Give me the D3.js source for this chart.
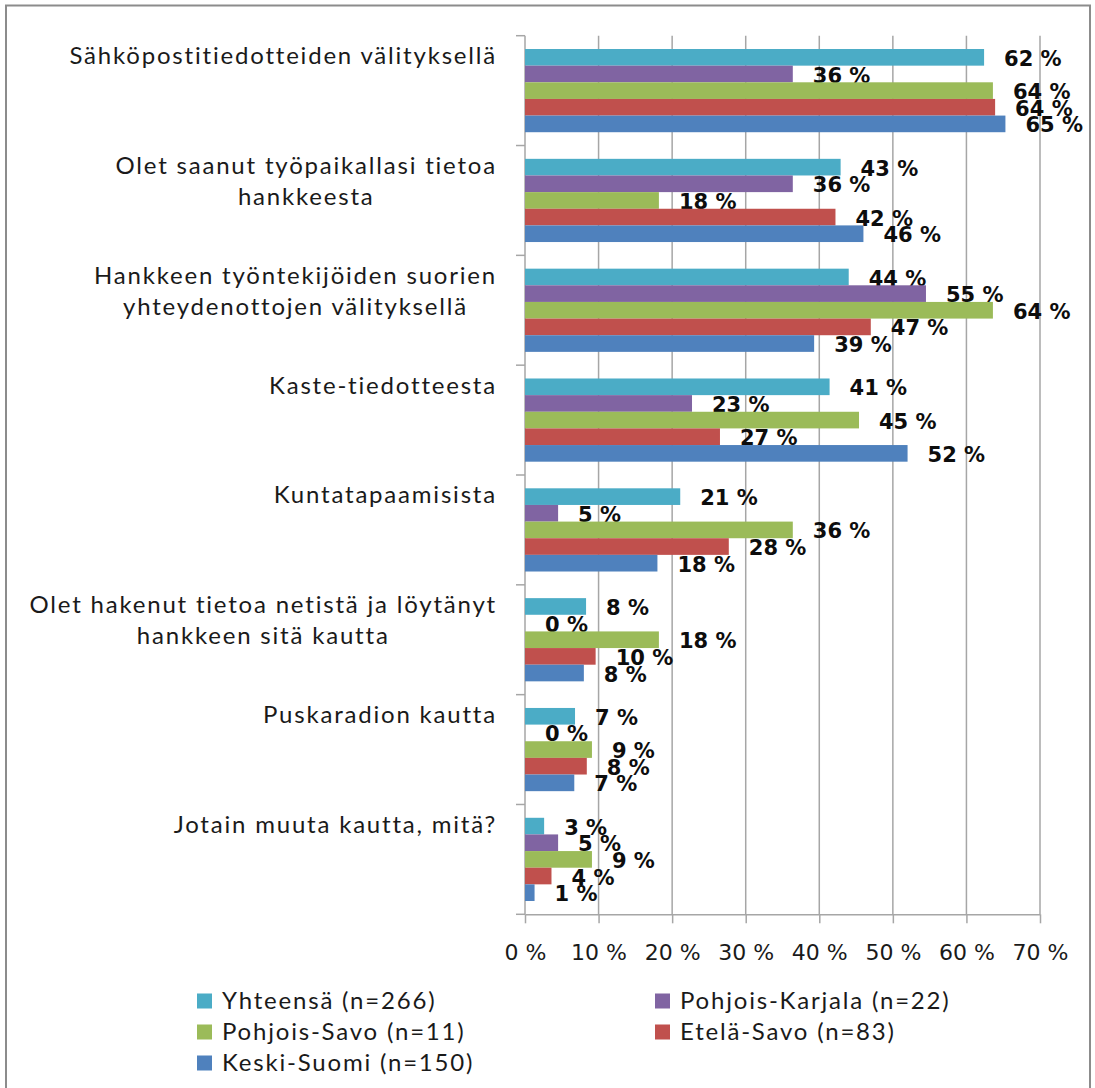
<!DOCTYPE html>
<html>
<head>
<meta charset="utf-8">
<script src="https://cdn.jsdelivr.net/npm/d3@7"></script>
<style>
body { margin: 0; background: #ffffff; }
</style>
</head>
<body>
<div id="Main_Part"></div>
<script>
// categories (label lines), top to bottom
var Categories = [
	["Sähköpostitiedotteiden välityksellä"],
	["Olet saanut työpaikallasi tietoa", "hankkeesta"],
	["Hankkeen työntekijöiden suorien", "yhteydenottojen välityksellä"],
	["Kaste-tiedotteesta"],
	["Kuntatapaamisista"],
	["Olet hakenut tietoa netistä ja löytänyt", "hankkeen sitä kautta"],
	["Puskaradion kautta"],
	["Jotain muuta kautta, mitä?"]
];

var SeriesNames = ["Yhteensä (n=266)", "Pohjois-Karjala (n=22)", "Pohjois-Savo (n=11)", "Etelä-Savo (n=83)", "Keski-Suomi (n=150)"];
var SeriesColors = ["#4BACC6", "#8064A2", "#9BBB59", "#C0504D", "#4F81BD"];

// percent values per series, same order as Categories
var Yhteensa       = [62.4, 42.9, 44.0, 41.4, 21.1, 8.3, 6.8, 2.6];
var PohjoisKarjala = [36.4, 36.4, 54.5, 22.7, 4.5, 0, 0, 4.5];
var PohjoisSavo    = [63.6, 18.2, 63.6, 45.4, 36.4, 18.2, 9.1, 9.1];
var EtelaSavo      = [63.9, 42.2, 47.0, 26.5, 27.7, 9.6, 8.4, 3.6];
var KeskiSuomi     = [65.3, 46.0, 39.3, 52.0, 18.0, 8.0, 6.7, 1.3];

var SeriesValues = [Yhteensa, PohjoisKarjala, PohjoisSavo, EtelaSavo, KeskiSuomi];
var TickValues = [0, 10, 20, 30, 40, 50, 60, 70];

var LabelFont = "Lato, 'Open Sans', sans-serif";
var NumberFont = "'DejaVu Sans', Verdana, sans-serif";
var GridColor = "#a6a6a6";

var svg = d3.select("#Main_Part")
	.append("svg")
	.attr("width", 1095)
	.attr("height", 1088);

// outer frame
svg.append("rect")
	.attr("x", 6)
	.attr("y", 5.5)
	.attr("width", 1084)
	.attr("height", 1100)
	.style("fill", "none")
	.style("stroke", "#8c8c8c")
	.style("stroke-width", 2);

var CategoryIndex = d3.range(Categories.length);

var x = d3.scaleLinear()
	.domain([0, 70])
	.range([525, 1040]);

var y = d3.scaleBand()
	.domain(CategoryIndex)
	.range([35.7, 914.3]);

var ySeries = d3.scaleBand()
	.domain(d3.range(SeriesNames.length))
	.range([0, y.bandwidth()])
	.paddingInner(0)
	.paddingOuter(0.8);

// vertical grid lines
svg.append("g")
	.selectAll("line")
	.data(TickValues.slice(1))
	.enter()
	.append("line")
	.attr("x1", function(d){ return x(d); })
	.attr("x2", function(d){ return x(d); })
	.attr("y1", y.range()[0])
	.attr("y2", y.range()[1])
	.style("stroke", GridColor)
	.style("stroke-width", 1.5);

// x axis
var xAxis = svg.append("g")
	.attr("transform", "translate(0," + y.range()[1] + ")")
	.call(d3.axisBottom(x)
		.tickValues(TickValues)
		.tickFormat(function(d){ return d + " %"; })
		.tickSize(9)
		.tickSizeOuter(0)
		.tickPadding(21));

xAxis.select(".domain").style("stroke", GridColor).style("stroke-width", 1.5);
xAxis.selectAll(".tick line").style("stroke", GridColor).style("stroke-width", 1.5);
xAxis.selectAll(".tick text")
	.style("font-family", NumberFont)
	.style("font-size", "22px")
	.style("fill", "#1a1a1a");

// category axis line + ticks at band edges
svg.append("line")
	.attr("x1", x(0))
	.attr("x2", x(0))
	.attr("y1", y.range()[0])
	.attr("y2", y.range()[1])
	.style("stroke", GridColor)
	.style("stroke-width", 1.5);

var Edges = CategoryIndex.map(function(d){ return y(d); }).concat([y.range()[1]]);
svg.append("g")
	.selectAll("line")
	.data(Edges)
	.enter()
	.append("line")
	.attr("x1", x(0) - 9)
	.attr("x2", x(0))
	.attr("y1", function(d){ return d; })
	.attr("y2", function(d){ return d; })
	.style("stroke", GridColor)
	.style("stroke-width", 1.5);

// category labels: right aligned block, lines centred inside it
var LabelRight = 497;
CategoryIndex.forEach(function(ci)
{
	var Lines = Categories[ci];
	var g = svg.append("g");
	var texts = g.selectAll("text")
		.data(Lines)
		.enter()
		.append("text")
		.attr("y", function(d, i){ return y(ci) + 20 + i * 31; })
		.attr("dy", "0.35em")
		.attr("text-anchor", "middle")
		.text(function(d){ return d; })
		.style("font-family", LabelFont)
		.style("font-size", "24px")
		.style("letter-spacing", "1.8px")
		.style("fill", "#1a1a1a");
	var BlockWidth = d3.max(texts.nodes(), function(n){ return n.getComputedTextLength(); });
	texts.attr("x", LabelRight - BlockWidth / 2);
});

// bars
SeriesValues.forEach(function(Values, si)
{
	var bars = svg.append("g");

	bars.selectAll("rect")
		.data(Values)
		.enter()
		.append("rect")
		.attr("x", x(0))
		.attr("y", function(d, i){ return y(i) + ySeries(si); })
		.attr("width", function(d){ return x(d) - x(0); })
		.attr("height", ySeries.bandwidth())
		.style("fill", SeriesColors[si]);

	bars.selectAll("text")
		.data(Values)
		.enter()
		.append("text")
		.attr("x", function(d){ return x(d) + 20; })
		.attr("y", function(d, i){ return y(i) + ySeries(si) + ySeries.bandwidth() / 2 + 1; })
		.attr("dy", "0.36em")
		.text(function(d){ return Math.round(d) + " %"; })
		.style("font-family", NumberFont)
		.style("font-weight", "bold")
		.style("font-size", "21px")
		.style("fill", "#0d0d0d");
});

// legend
var LegendX = [197, 655];
var LegendY = [1001, 1032, 1063];
var legend = svg.append("g")
	.selectAll("g")
	.data(SeriesNames)
	.enter()
	.append("g")
	.attr("transform", function(d, i){
		return "translate(" + LegendX[i % 2] + "," + LegendY[Math.floor(i / 2)] + ")";
	});

legend.append("rect")
	.attr("x", 0)
	.attr("y", -7.5)
	.attr("width", 15)
	.attr("height", 15)
	.style("fill", function(d, i){ return SeriesColors[i]; });

legend.append("text")
	.attr("x", 25)
	.attr("y", 0)
	.attr("dy", "0.35em")
	.text(function(d){ return d; })
	.style("font-family", LabelFont)
	.style("font-size", "24px")
	.style("letter-spacing", "1.8px")
	.style("fill", "#1a1a1a");
</script>
</body>
</html>
